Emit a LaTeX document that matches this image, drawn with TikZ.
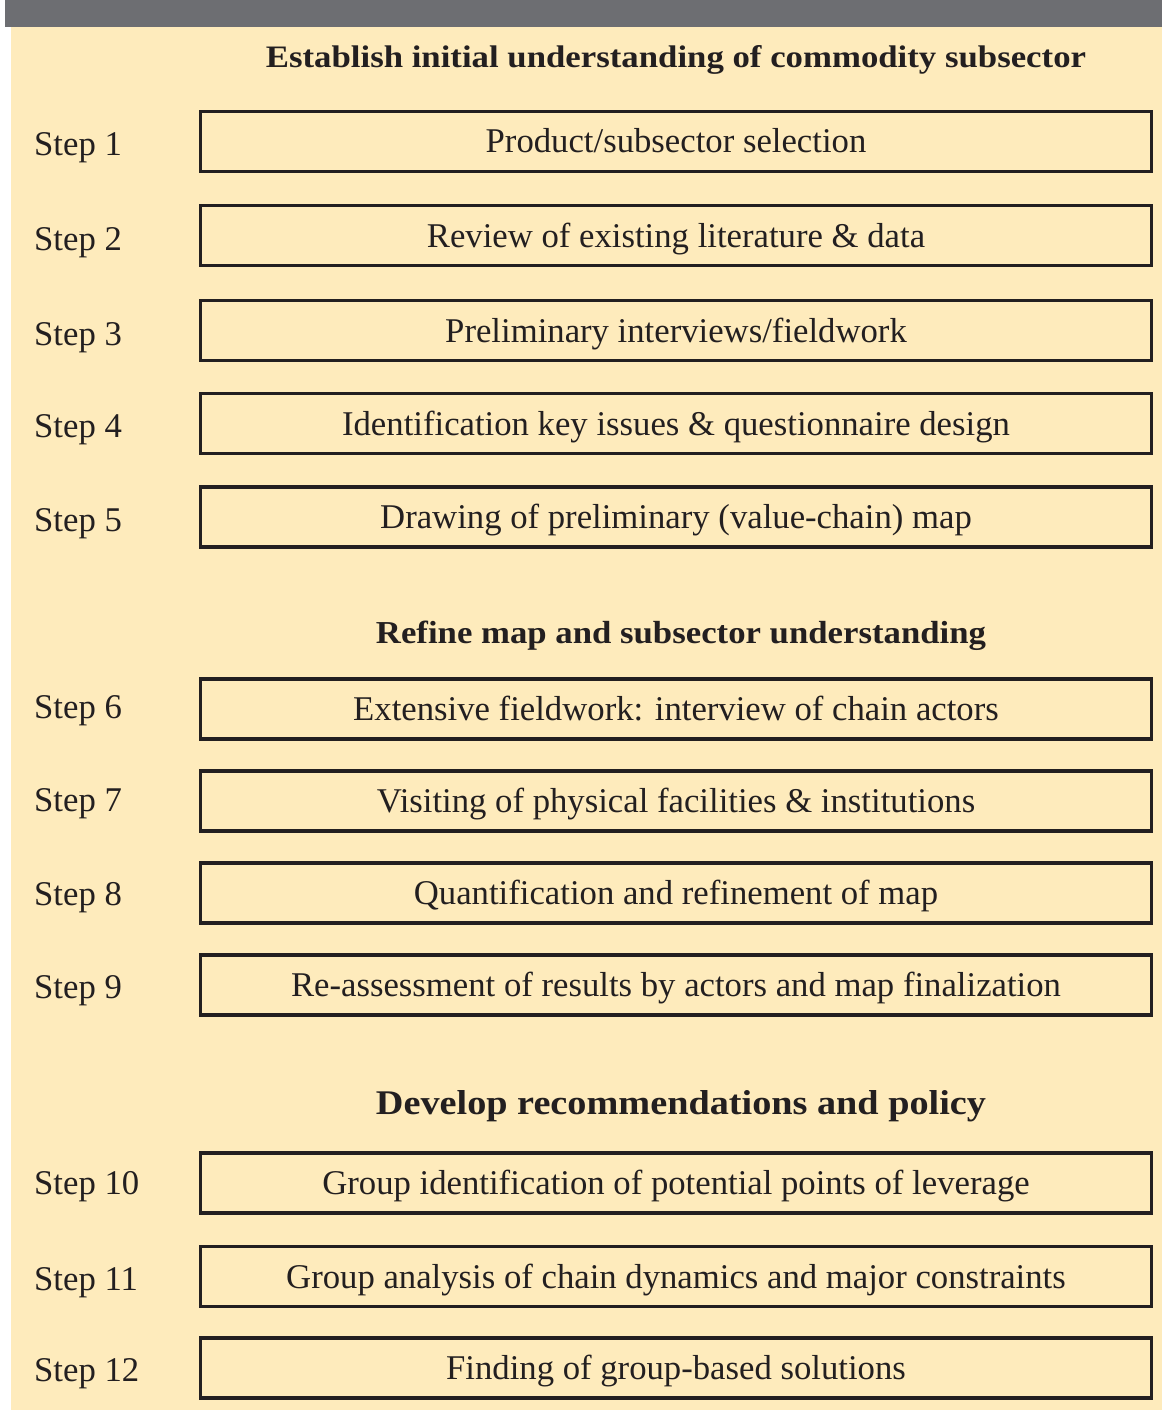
\documentclass[tikz,border=0pt]{standalone}
\usepackage{fontspec}
\setmainfont{Liberation Serif}
\usepackage{graphicx}
\definecolor{bg}{HTML}{FEEBBC}
\definecolor{bar}{HTML}{6D6E72}
\definecolor{ink}{HTML}{231F20}
\begin{document}
\begin{tikzpicture}[x=1pt,y=-1pt,
  stepbox/.style={draw=ink, line width=3.2pt, minimum width=951pt, minimum height=60pt,
    inner sep=0pt, text height=23pt, text depth=0pt, text=ink,
    font=\fontsize{34.7}{40}\selectfont},
  steplabel/.style={anchor=west, inner sep=0pt, text height=22pt, text depth=0pt, text=ink,
    font=\fontsize{34.7}{40}\selectfont},
  heading/.style={anchor=base, inner sep=0pt, text=ink}]
\useasboundingbox (0,0) rectangle (1162,1410);
\fill[white] (0,0) rectangle (1162,1410);
\fill[bg] (11,27) rectangle (1162,1410);
\fill[bar] (5,0) rectangle (1162,27);

% headings
\node[heading] (h1) at (676,67.3) {\resizebox{820pt}{22pt}{\bfseries Establish initial understanding of commodity subsector}};
\node[heading] (h2) at (681,643) {\resizebox{610pt}{22.5pt}{\bfseries Refine map and subsector understanding}};
\node[heading] (h3) at (681,1114.5) {\resizebox{610pt}{24pt}{\bfseries Develop recommendations and policy}};

% boxes
\node[stepbox] (b1) at (676,141.5) {Product/subsector selection};
\node[stepbox] (b2) at (676,235.5) {Review of existing literature \& data};
\node[stepbox] (b3) at (676,330.5) {Preliminary interviews/fieldwork};
\node[stepbox] (b4) at (676,423.5) {Identification key issues \& questionnaire design};
\node[stepbox] (b5) at (676,517) {Drawing of preliminary (value-chain) map};
\node[stepbox] (b6) at (676,709) {Extensive fieldwork: interview of chain actors};
\node[stepbox] (b7) at (676,801) {Visiting of physical facilities \& institutions};
\node[stepbox] (b8) at (676,893) {Quantification and refinement of map};
\node[stepbox] (b9) at (676,985) {Re-assessment of results by actors and map finalization};
\node[stepbox] (b10) at (676,1183) {Group identification of potential points of leverage};
\node[stepbox] (b11) at (676,1276.5) {Group analysis of chain dynamics and major constraints};
\node[stepbox] (b12) at (676,1368) {Finding of group-based solutions};

% step labels
\node[steplabel] (s1) at (34,144) {Step 1};
\node[steplabel] (s2) at (34,239) {Step 2};
\node[steplabel] (s3) at (34,334) {Step 3};
\node[steplabel] (s4) at (34,426) {Step 4};
\node[steplabel] (s5) at (34,520) {Step 5};
\node[steplabel] (s6) at (34,707) {Step 6};
\node[steplabel] (s7) at (34,800) {Step 7};
\node[steplabel] (s8) at (34,894) {Step 8};
\node[steplabel] (s9) at (34,987) {Step 9};
\node[steplabel] (s10) at (34,1183) {Step 10};
\node[steplabel] (s11) at (34,1279) {Step 11};
\node[steplabel] (s12) at (34,1370) {Step 12};
\end{tikzpicture}
\end{document}
